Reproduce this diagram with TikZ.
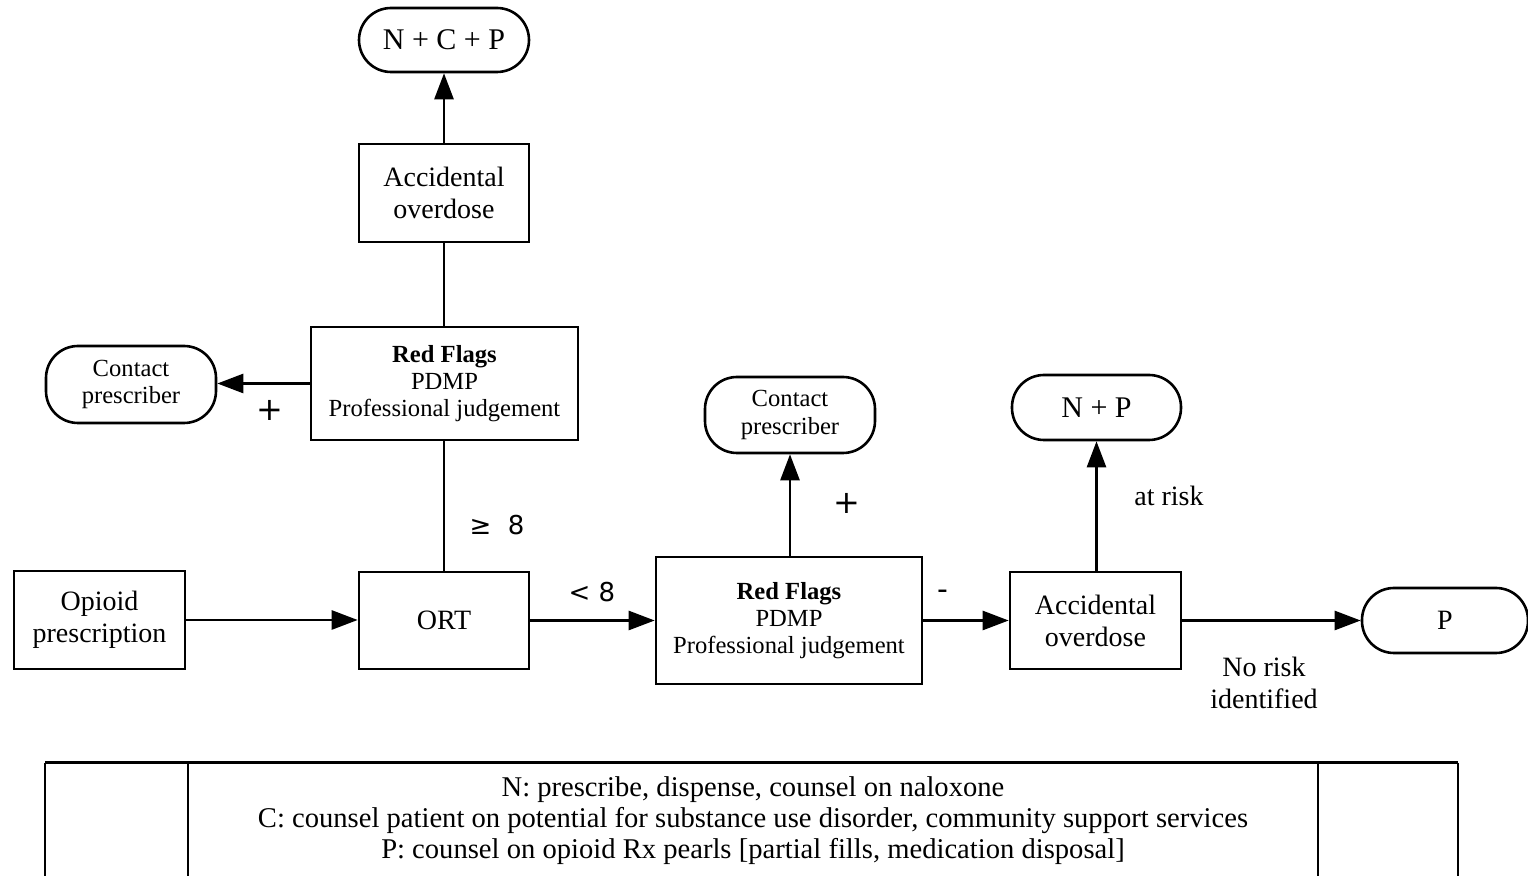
\documentclass[tikz,border=0pt]{standalone}
\usepackage{fontspec}
\setmainfont{Liberation Serif}
\newfontfamily\sansf{DejaVu Sans}
\usetikzlibrary{arrows.meta}
\begin{document}
\begin{tikzpicture}[x=0.5pt,y=-0.5pt,
  box/.style={draw, line width=1.3pt, align=center, inner sep=0pt},
  pill/.style={box, rounded corners=16pt},
  conn/.style={line width=1.3pt},
  arr/.style={conn, -{Triangle[length=13pt,width=9.5pt]}},
  lbl/.style={inner sep=0pt, align=center, font=\fontsize{14}{16}\selectfont},
  slbl/.style={inner sep=0pt, font=\sansf\fontsize{13}{15}\selectfont},
  tline/.style={line width=1.1pt}
]
\useasboundingbox (0,0) rectangle (1528,876);

% top branch
\node[pill, minimum width=85pt, minimum height=32pt, font=\fontsize{15}{17}\selectfont] (ncp) at (444,40) {N + C + P};
\node[box, minimum width=85pt, minimum height=49pt, font=\fontsize{14}{16}\selectfont] (ao1) at (444,193) {Accidental\\overdose};
\node[box, minimum width=133.5pt, minimum height=56.5pt, font=\fontsize{12.3}{13.6}\selectfont] (rf1) at (444.5,383.5) {\textbf{Red Flags}\\PDMP\\Professional judgement};
\node[pill, minimum width=85pt, minimum height=38.5pt, font=\fontsize{12.3}{13.6}\selectfont] (cp1) at (131,384.5) {Contact\\prescriber};

% main row
\node[box, minimum width=85.5pt, minimum height=49pt, font=\fontsize{14}{16}\selectfont] (op) at (99.5,620) {Opioid\\prescription};
\node[box, minimum width=85pt, minimum height=48.5pt, font=\fontsize{14}{16}\selectfont] (ort) at (444,620.5) {ORT};
\node[box, minimum width=133pt, minimum height=63.5pt, font=\fontsize{12.3}{13.6}\selectfont] (rf2) at (789,620.5) {\textbf{Red Flags}\\PDMP\\Professional judgement};
\node[pill, minimum width=85pt, minimum height=38pt, font=\fontsize{12.3}{13.6}\selectfont] (cp2) at (790,415) {Contact\\prescriber};
\node[box, minimum width=85.5pt, minimum height=48.5pt, font=\fontsize{14}{16}\selectfont] (ao2) at (1095.5,620.5) {Accidental\\overdose};
\node[pill, minimum width=84.5pt, minimum height=32.5pt, font=\fontsize{15}{17}\selectfont] (np) at (1096.5,407.5) {N + P};
\node[pill, minimum width=83pt, minimum height=32.5pt, font=\fontsize{14}{16}\selectfont] (p) at (1445,620.5) {P};

% connectors
\draw[arr] (op.east) -- (op.east -| ort.west);
\draw[conn] (ort.north) -- (rf1.south -| ort.north);
\draw[arr] (rf1.west) -- (rf1.west -| cp1.east);
\draw[conn] (rf1.north -| ao1.south) -- (ao1.south);
\draw[arr] (ao1.north) -- (ncp.south);
\draw[arr] (ort.east) -- (ort.east -| rf2.west);
\draw[arr] (rf2.north -| cp2.south) -- (cp2.south);
\draw[arr] (rf2.east) -- (rf2.east -| ao2.west);
\draw[arr] (ao2.north -| np.south) -- (np.south);
\draw[arr] (ao2.east) -- (ao2.east -| p.west);

% labels
\node[slbl, font=\sansf\fontsize{16}{18}\selectfont] (l1) at (270,410) {+};
\node[slbl] (l2) at (497,525) {≥\ \ 8};
\node[slbl] (l3) at (592,592) {< 8};
\node[slbl, font=\sansf\fontsize{16}{18}\selectfont] (l4) at (847,503) {+};
\node[slbl, font=\sansf\fontsize{15}{17}\selectfont] (l5) at (943,595) {-};
\node[lbl] (l6) at (1169,496) {at risk};
\node[lbl] (l7) at (1264,683) {No risk\\identified};

% legend table
\draw[tline, line width=1.5pt] (45,763) -- (1458,763);
\draw[tline] (45,763) -- (45,876);
\draw[tline] (188,763) -- (188,876);
\draw[tline] (1318,763) -- (1318,876);
\draw[tline] (1458,763) -- (1458,876);
\node[inner sep=0pt, align=center, font=\fontsize{14.3}{15.5}\selectfont] (leg) at (753,821) {N: prescribe, dispense, counsel on naloxone\\C: counsel patient on potential for substance use disorder, community support services\\P: counsel on opioid Rx pearls [partial fills, medication disposal]};
\end{tikzpicture}
\end{document}
